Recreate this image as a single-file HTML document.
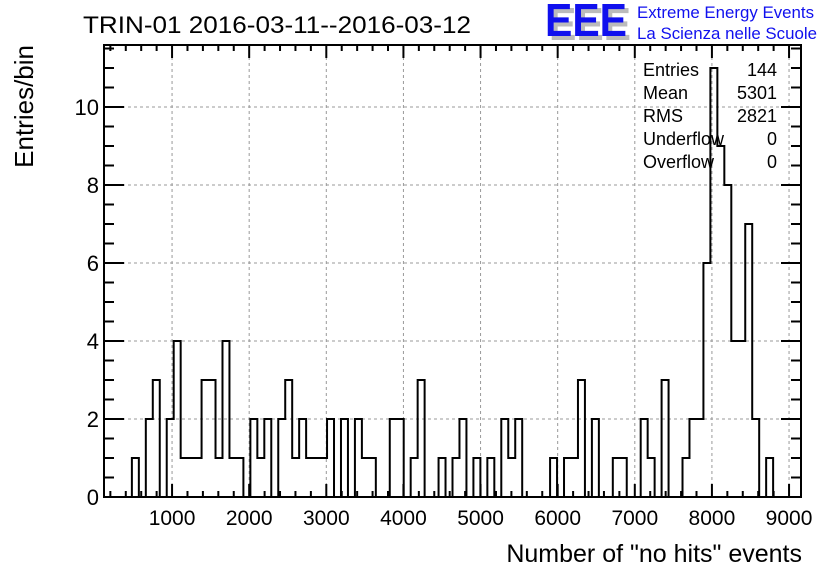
<!DOCTYPE html>
<html><head><meta charset="utf-8"><style>
html,body{margin:0;padding:0;background:#fff;}
svg{display:block;font-family:"Liberation Sans",sans-serif;}
</style></head><body>
<svg id="chart" width="836" height="572" viewBox="0 0 836 572" xmlns="http://www.w3.org/2000/svg">
<g id="grid"></g>
<g id="hist"></g>
<rect x="104" y="45" width="697" height="452" fill="none" stroke="#000" stroke-width="2"/>
<g id="ticks"></g>
<g id="labels"></g>
<text x="83" y="33" font-size="24" textLength="388" lengthAdjust="spacingAndGlyphs">TRIN-01 2016-03-11--2016-03-12</text>
<g>
<text x="549" y="40" font-size="46" font-weight="bold" fill="#bbbbbb" textLength="82" lengthAdjust="spacingAndGlyphs">EEE</text>
<text x="545" y="36" font-size="46" font-weight="bold" fill="#1010ee" textLength="82" lengthAdjust="spacingAndGlyphs">EEE</text>
<text x="637" y="18" font-size="17" fill="#1010ee" textLength="177" lengthAdjust="spacingAndGlyphs">Extreme Energy Events</text>
<text x="637" y="39" font-size="17" fill="#1010ee" textLength="180" lengthAdjust="spacingAndGlyphs">La Scienza nelle Scuole</text>
</g>
<g font-size="18">
<text x="643" y="76">Entries</text><text x="777" y="76" text-anchor="end">144</text>
<text x="643" y="99">Mean</text><text x="777" y="99" text-anchor="end">5301</text>
<text x="643" y="122">RMS</text><text x="777" y="122" text-anchor="end">2821</text>
<text x="643" y="145">Underflow</text><text x="777" y="145" text-anchor="end">0</text>
<text x="643" y="168">Overflow</text><text x="777" y="168" text-anchor="end">0</text>
</g>
<text x="802" y="562" font-size="25" text-anchor="end">Number of "no hits" events</text>
<text transform="translate(33,45) rotate(-90)" font-size="26" text-anchor="end">Entries/bin</text>
</svg>
<script>
const counts = [0,0,0,0,1,0,2,3,0,2, 4,1,1,1,3,3,1,4,1,1, 0,2,1,2,0,2,3,1,2,1, 1,1,2,0,2,0,2,1,1,0, 0,2,2,0,1,3,0,0,1,0, 1,2,0,1,0,1,0,2,1,2, 0,0,0,0,1,0,1,1,3,0, 2,0,0,1,1,0,0,2,1,0, 3,0,0,1,2,2,6,11,9,8, 4,4,7,2,0,1,0,0,0,0];
const xMin = 117.6, xMax = 9155;
const yMin = 0, yMax = 11.59;
const xTickValues = [1000,2000,3000,4000,5000,6000,7000,8000,9000];
const yTickValues = [0,2,4,6,8,10];
const L=104,R=801,T=45,B=497;
const NS='http://www.w3.org/2000/svg';
function sx(v){return L+(v-xMin)/(xMax-xMin)*(R-L);}
function sy(v){return B-(v-yMin)/(yMax-yMin)*(B-T);}
function mk(tag,attrs,parent){const e=document.createElementNS(NS,tag);for(const k in attrs)e.setAttribute(k,attrs[k]);parent.appendChild(e);return e;}
const grid=document.getElementById('grid'),ticks=document.getElementById('ticks'),labels=document.getElementById('labels'),hist=document.getElementById('hist');
xTickValues.forEach(v=>{const g=mk('line',{x1:sx(v),x2:sx(v),y1:T,y2:B,stroke:'#999','stroke-dasharray':'3,3','stroke-width':1},grid);


const t=mk('text',{x:sx(v),y:525,'font-size':21,'text-anchor':'middle'},labels);t.textContent=v;

});
yTickValues.forEach(v=>{if(v>0){const g=mk('line',{x1:L,x2:R,y1:sy(v),y2:sy(v),stroke:'#999','stroke-dasharray':'3,3','stroke-width':1},grid);

}
const t=mk('text',{x:99,y:sy(v)+8,'font-size':22,'text-anchor':'end'},labels);t.textContent=v;

});
// x ticks (every 200), major at 1000
for(let v=200;v<=xMax;v+=200){if(v<xMin)continue;const major=v%1000===0,len=major?13:6;
mk('line',{x1:sx(v),x2:sx(v),y1:B,y2:B-len,stroke:'#000','stroke-width':2},ticks);
mk('line',{x1:sx(v),x2:sx(v),y1:T,y2:T+len,stroke:'#000','stroke-width':2},ticks);}
for(let v=0.5;v<=yMax;v+=0.5){const major=v%2===0,len=major?20:10;
mk('line',{x1:L,x2:L+len,y1:sy(v),y2:sy(v),stroke:'#000','stroke-width':2},ticks);
mk('line',{x1:R,x2:R-len,y1:sy(v),y2:sy(v),stroke:'#000','stroke-width':2},ticks);}
// histogram outline
const bw=(xMax-xMin)/counts.length;let d='M'+sx(xMin)+','+sy(0);
counts.forEach((c,i)=>{const x0=sx(xMin+i*bw),x1=sx(xMin+(i+1)*bw);d+=' L'+x0+','+sy(c)+' L'+x1+','+sy(c);});
d+=' L'+sx(xMax)+','+sy(0);
const p=mk('path',{d:d,fill:'none',stroke:'#000','stroke-width':2},hist);


</script>
</body></html>
